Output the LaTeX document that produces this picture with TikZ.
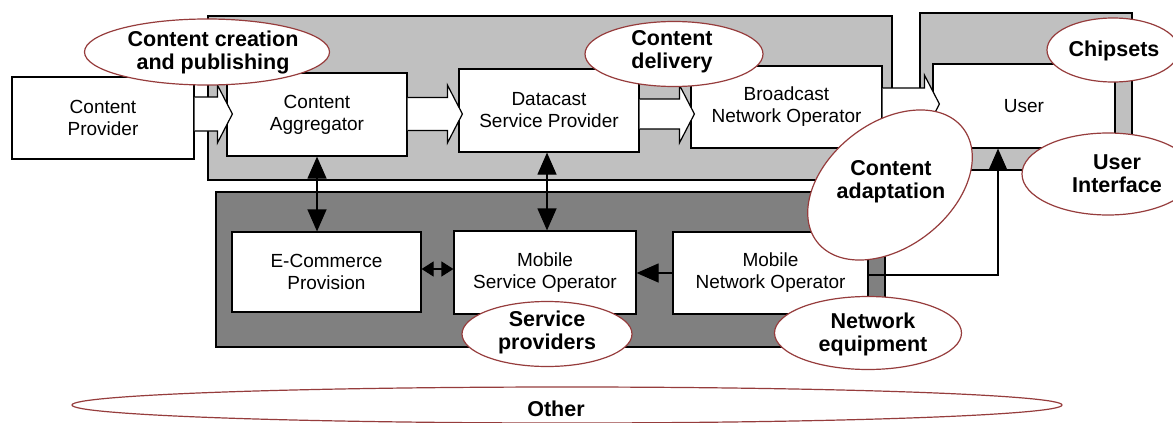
\documentclass[tikz,border=0pt]{standalone}
\usepackage{fontspec}
\setmainfont{Liberation Sans}
\usetikzlibrary{shapes.geometric,arrows.meta,calc}
\definecolor{lightpanel}{RGB}{192,192,192}
\definecolor{darkpanel}{RGB}{128,128,128}
\definecolor{ellred}{RGB}{150,60,60}
\newcommand{\blockarr}[3]{%
  \draw[blockarrow] let \p1=#1, \p2=#2 in
   (\x1,\y1+#3) -- (\x2-15pt,\y1+#3) -- (\x2-15pt,\y1+29pt) -- (\x2,\y1)
   -- (\x2-15pt,\y1-29pt) -- (\x2-15pt,\y1-#3) -- (\x1,\y1-#3);}
\begin{document}
\begin{tikzpicture}[x=1pt,y=-1pt,
  box/.style={draw=black, fill=white, line width=1.2pt, align=center,
    font=\fontsize{19}{22}\selectfont, inner sep=0pt},
  panel/.style={draw=black, line width=1.2pt},
  ell/.style={ellipse, draw=ellred, fill=white, line width=1.2pt, inner sep=0pt},
  elltext/.style={align=center, font=\fontsize{21.5}{23}\selectfont\bfseries, inner sep=0pt},
  blockarrow/.style={draw=black, fill=white, line width=1.2pt, line join=miter},
  dblarrow/.style={line width=1.2pt, {Triangle[length=22pt,width=19pt]}-{Triangle[length=22pt,width=19pt]}},
  smalldbl/.style={line width=1.2pt, {Triangle[length=12pt,width=15pt]}-{Triangle[length=12pt,width=15pt]}},
  sglarrow/.style={line width=1.2pt, -{Triangle[length=22pt,width=19pt]}}]
\useasboundingbox[fill=white] (0,0) rectangle (1173,423);

% panels
\draw[panel, fill=lightpanel] (208,16) rectangle (892,180);
\draw[panel, fill=lightpanel] (920,13) rectangle (1132,170);
\draw[panel, fill=darkpanel] (216,192) rectangle (885,347);

% boxes
\node[box, minimum width=182pt, minimum height=82pt] (cp) at (103,118) {Content\\Provider};
\node[box, minimum width=180pt, minimum height=83pt] (ca) at (317,114.5) {Content\\Aggregator};
\node[box, minimum width=180pt, minimum height=83pt] (dsp) at (549,110.5) {Datacast\\Service Provider};
\node[box, minimum width=191pt, minimum height=82pt] (bno) at (786.5,107) {Broadcast\\Network Operator};
\node[box, minimum width=182pt, minimum height=84pt] (user) at (1024,106) {User};
\node[box, minimum width=189pt, minimum height=80pt] (ecom) at (326.5,272) {E-Commerce\\Provision};
\node[box, minimum width=182pt, minimum height=83pt] (mso) at (545,272.5) {Mobile\\Service Operator};
\node[box, minimum width=195pt, minimum height=82pt] (mno) at (770.5,273) {Mobile\\Network Operator};

% block arrows
\blockarr{($(cp.east)+(0,-4)$)}{($(ca.west)+(6,0)$)}{17pt}
\blockarr{($(ca.east)+(0,-0.5)$)}{($(dsp.west)+(4,0)$)}{16.5pt}
\blockarr{($(dsp.east)+(0,3.5)$)}{($(bno.west)+(4,0)$)}{15pt}
\blockarr{($(bno.east)+(0,-3)$)}{($(user.west)+(7,0)$)}{16pt}

% connectors
\draw[dblarrow] (ca.south) -- (ca.south |- ecom.north);
\draw[dblarrow] ($(dsp.south)+(-2,0)$) -- ($(dsp.south |- mso.north)+(-2,0)$);
\draw[smalldbl] ($(ecom.east)+(0,-3)$) -- ($(mso.west |- ecom.east)+(0,-3)$);
\draw[sglarrow] (mno.west) -- (mso.east |- mno.west);
\coordinate (uin) at ($(user.south)+(-26,0)$);
\draw[sglarrow] ($(mno.east)+(0,2)$) -| (uin);

% ellipses
\node[ell, minimum width=245pt, minimum height=66pt] (e1) at (207,52) {};
\node[elltext] (e1t) at (213,52) {Content creation\\and publishing};
\node[ell, minimum width=178pt, minimum height=65pt] (e2) at (674,54) {};
\node[elltext] (e2t) at (672,52) {Content\\delivery};
\node[ell, minimum width=132pt, minimum height=64pt] (e3) at (1113,50) {};
\node[elltext] (e3t) at (1114,51) {Chipsets};
\node[ell, minimum width=172pt, minimum height=82pt] (e4) at (1108,174) {};
\node[elltext] (e4t) at (1117,174) {User\\Interface};
\node[ell, rotate=38, minimum width=185pt, minimum height=124pt] (e5) at (890,185) {};
\node[elltext] (e5t) at (891,182) {Content\\adaptation};
\node[ell, minimum width=170pt, minimum height=65pt] (e6) at (547,334) {};
\node[elltext] (e6t) at (547,332) {Service\\providers};
\node[ell, minimum width=187pt, minimum height=73pt] (e7) at (868,333) {};
\node[elltext] (e7t) at (873,334) {Network\\equipment};
\node[ell, minimum width=990pt, minimum height=36pt] (e8) at (567,405) {};
\node[elltext] (e8t) at (556,409) {Other};
\end{tikzpicture}
\end{document}
